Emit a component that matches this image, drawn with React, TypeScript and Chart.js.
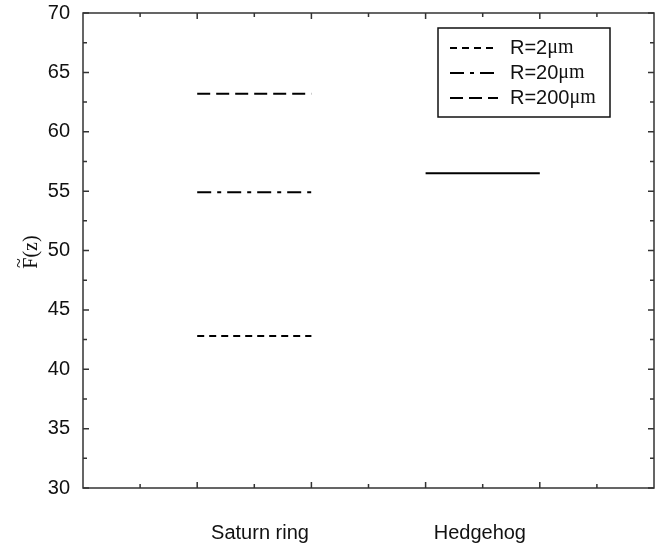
import React, { useEffect, useRef } from "react";
import { Chart, registerables } from "chart.js";

Chart.register(...registerables);

// ---- data ----
const categories = ["Saturn ring", "Hedgehog"];
const categoryLabelPos = [3.1, 6.95];
const saturnSpan = [2, 4];
const hedgehogSpan = [6, 8];
const radii = [2, 20, 200];
const saturnValues = [42.8, 54.9, 63.2];
const hedgehogValues = [56.5];
const dashPatterns = [
  [7, 5],
  [14, 6, 4, 6],
  [13, 6],
];
const yMajorTicks = [30, 35, 40, 45, 50, 55, 60, 65, 70];
const yMinorTicks = [32.5, 37.5, 42.5, 47.5, 52.5, 57.5, 62.5, 67.5];
const xMajorTicks = [2, 4, 6, 8];
const xMinorTicks = [1, 3, 5, 7, 9];

const SANS = '"Liberation Sans", Arial, sans-serif';
const SERIF = '"Liberation Serif", "Times New Roman", serif';

const framePlugin = {
  id: "framePlugin",
  afterDraw(chart: any) {
    const ctx = chart.ctx;
    const { left, right, top, bottom } = chart.chartArea;
    const xs = chart.scales.x;
    const ys = chart.scales.y;
    ctx.save();
    ctx.setLineDash([]);
    ctx.strokeStyle = "#333";
    ctx.lineWidth = 1.5;
    ctx.strokeRect(left, top, right - left, bottom - top);

    // ticks
    ctx.lineWidth = 1.5;
    ctx.beginPath();
    const yt = (vals: number[], len: number) => {
      vals.forEach((v) => {
        const p = ys.getPixelForValue(v);
        ctx.moveTo(left, p);
        ctx.lineTo(left + len, p);
        ctx.moveTo(right, p);
        ctx.lineTo(right - len, p);
      });
    };
    const xt = (vals: number[], len: number) => {
      vals.forEach((v) => {
        const p = xs.getPixelForValue(v);
        ctx.moveTo(p, bottom);
        ctx.lineTo(p, bottom - len);
        ctx.moveTo(p, top);
        ctx.lineTo(p, top + len);
      });
    };
    yt(yMajorTicks, 6);
    yt(yMinorTicks, 4);
    xt(xMajorTicks, 6);
    xt(xMinorTicks, 4);
    ctx.stroke();

    // y tick labels
    ctx.fillStyle = "#111";
    ctx.font = `20px ${SANS}`;
    ctx.textAlign = "right";
    ctx.textBaseline = "middle";
    yMajorTicks.forEach((v) => {
      ctx.fillText(String(v), left - 13, ys.getPixelForValue(v));
    });

    // x category labels
    ctx.textAlign = "center";
    ctx.textBaseline = "middle";
    categories.forEach((c, i) => {
      ctx.fillText(c, xs.getPixelForValue(categoryLabelPos[i]), 533);
    });

    // y title  F~(z)
    ctx.save();
    ctx.translate(30, 252);
    ctx.rotate(-Math.PI / 2);
    ctx.font = `20px ${SERIF}`;
    ctx.textAlign = "left";
    ctx.textBaseline = "alphabetic";
    const wF = ctx.measureText("F").width;
    const wR = ctx.measureText("(z)").width;
    const total = wF + wR;
    const x0 = -total / 2;
    ctx.fillText("F", x0, 7);
    ctx.fillText("(z)", x0 + wF, 7);
    ctx.font = `18px ${SERIF}`;
    ctx.textAlign = "center";
    ctx.fillText("~", x0 + wF / 2, -5);
    ctx.restore();

    // legend
    const bx = 438, by = 28, bw = 172, bh = 89;
    ctx.fillStyle = "#fff";
    ctx.fillRect(bx, by, bw, bh);
    ctx.strokeStyle = "#111";
    ctx.lineWidth = 1.5;
    ctx.setLineDash([]);
    ctx.strokeRect(bx, by, bw, bh);
    radii.forEach((r, i) => {
      const yy = 48 + 25 * i;
      ctx.beginPath();
      ctx.setLineDash(dashPatterns[i]);
      ctx.lineWidth = 2;
      ctx.strokeStyle = "#000";
      ctx.moveTo(450, yy);
      ctx.lineTo(498, yy);
      ctx.stroke();
      ctx.setLineDash([]);
      ctx.fillStyle = "#111";
      ctx.textAlign = "left";
      ctx.textBaseline = "middle";
      ctx.font = `20px ${SANS}`;
      const t = `R=${r}`;
      ctx.fillText(t, 510, yy);
      const w = ctx.measureText(t).width;
      ctx.font = `20px ${SERIF}`;
      ctx.fillText("\u03bcm", 510 + w, yy);
    });
    ctx.restore();
  },
};

export default function App() {
  const ref = useRef<HTMLCanvasElement>(null);
  useEffect(() => {
    const datasets: any[] = saturnValues.map((v, i) => ({
      label: `R=${radii[i]}\u03bcm`,
      data: [
        { x: saturnSpan[0], y: v },
        { x: saturnSpan[1], y: v },
      ],
      showLine: true,
      borderColor: "#000",
      borderWidth: 2,
      borderDash: dashPatterns[i],
      borderCapStyle: "butt",
      pointRadius: 0,
      fill: false,
    }));
    hedgehogValues.forEach((v) => {
      datasets.push({
        label: categories[1],
        data: [
          { x: hedgehogSpan[0], y: v },
          { x: hedgehogSpan[1], y: v },
        ],
        showLine: true,
        borderColor: "#000",
        borderWidth: 2,
        pointRadius: 0,
        fill: false,
      });
    });
    const chart = new Chart(ref.current as HTMLCanvasElement, {
      type: "scatter",
      data: { datasets },
      options: {
        animation: false,
        responsive: false,
        maintainAspectRatio: false,
        layout: { padding: { top: 13, right: 6, left: 0, bottom: 0 } },
        plugins: { legend: { display: false }, tooltip: { enabled: false } },
        scales: {
          x: {
            type: "linear",
            min: 0,
            max: 10,
            grid: { display: false },
            border: { display: false },
            ticks: { display: false },
            afterFit: (s: any) => {
              s.height = 60;
            },
          },
          y: {
            type: "linear",
            min: 30,
            max: 70,
            grid: { display: false },
            border: { display: false },
            ticks: { display: false },
            afterFit: (s: any) => {
              s.width = 83;
            },
          },
        },
      } as any,
      plugins: [framePlugin],
    });
    return () => chart.destroy();
  }, []);
  return (
    <div style={{ position: "fixed", left: 0, top: 0, width: 660, height: 548, background: "#fff" }}>
      <canvas ref={ref} width={660} height={548} style={{ display: "block" }} />
    </div>
  );
}
